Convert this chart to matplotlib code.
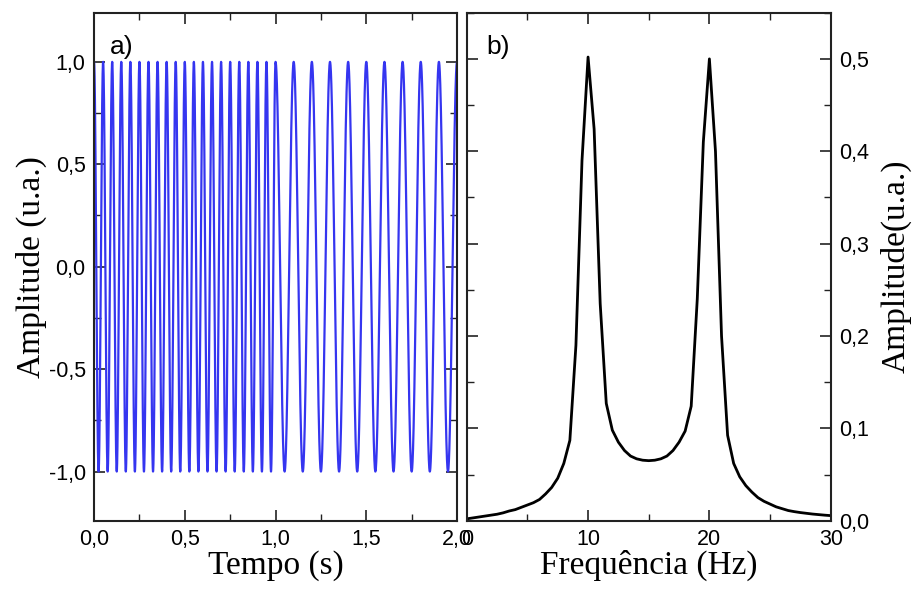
from matplotlib import pyplot as plt
from matplotlib.ticker import MultipleLocator, FuncFormatter
import numpy as np

# time signal: two segments, frequency read from the peak spacing
segStart = [0.0, 1.0]
segEnd = [1.0, 2.0]
segFreq = [20.0, 10.0]   # Hz
segAmp = [1.0, 1.0]

# spectrum read off panel b)
freqHz = [0, 0.5, 1, 1.5, 2, 2.5, 3, 3.5, 4, 4.5, 5, 5.5, 6, 6.5, 7, 7.5, 8, 8.5, 9, 9.5,
          10, 10.5, 11, 11.5, 12, 12.5, 13, 13.5, 14, 14.5, 15, 15.5, 16, 16.5, 17, 17.5,
          18, 18.5, 19, 19.5, 20, 20.5, 21, 21.5, 22, 22.5, 23, 23.5, 24, 24.5, 25, 25.5,
          26, 26.5, 27, 27.5, 28, 28.5, 29, 29.5, 30]
ampSpec = [0.002, 0.003, 0.004, 0.005, 0.006, 0.007, 0.0085, 0.0105, 0.012, 0.0145,
           0.017, 0.0195, 0.023, 0.029, 0.036, 0.046, 0.062, 0.087, 0.19, 0.39,
           0.502, 0.424, 0.235, 0.127, 0.098, 0.085, 0.076, 0.070, 0.067, 0.0655,
           0.065, 0.0655, 0.067, 0.070, 0.076, 0.085, 0.097, 0.124, 0.24, 0.41,
           0.5, 0.40, 0.20, 0.0925, 0.062, 0.0475, 0.038, 0.031, 0.025, 0.021,
           0.018, 0.015, 0.013, 0.011, 0.0098, 0.0088, 0.008, 0.0072, 0.0066, 0.006,
           0.0055]

t = np.linspace(0.0, 2.0, 8001)
y = np.zeros_like(t)
for a, b, f, A in zip(segStart, segEnd, segFreq, segAmp):
    m = (t >= a) & (t <= b)
    y[m] = A * np.cos(2 * np.pi * f * t[m])

plt.rcParams['font.family'] = ['Liberation Sans', 'DejaVu Sans']
tickSize = 15.5
labelFont = dict(family='Liberation Serif', size=24)


def comma(fmt):
    return FuncFormatter(lambda v, p: (fmt % v).replace('.', ','))


fig = plt.figure(figsize=(9.13, 5.94), dpi=100)
ax1 = fig.add_axes([0.103, 0.1234, 0.3976, 0.8552])
ax2 = fig.add_axes([0.5112, 0.1234, 0.3987, 0.8552])

ax1.plot(t, y, color='#3535f0', lw=1.6)
ax1.set_xlim(0, 2)
ax1.set_ylim(-1.24, 1.24)
ax1.xaxis.set_major_locator(MultipleLocator(0.5))
ax1.xaxis.set_minor_locator(MultipleLocator(0.25))
ax1.yaxis.set_major_locator(MultipleLocator(0.5))
ax1.yaxis.set_minor_locator(MultipleLocator(0.25))
ax1.xaxis.set_major_formatter(comma('%.1f'))
ax1.yaxis.set_major_formatter(comma('%.1f'))
ax1.set_xlabel('Tempo (s)', **labelFont, labelpad=0)
ax1.set_ylabel('Amplitude (u.a.)', **labelFont, labelpad=1)
ax1.text(0.077, 0.932, 'a)', transform=ax1.transAxes, fontsize=19, ha='center', va='center')

ax2.plot(freqHz, ampSpec, color='black', lw=2.0)
ax2.set_xlim(0, 30)
ax2.set_ylim(0, 0.55)
ax2.xaxis.set_major_locator(MultipleLocator(10))
ax2.xaxis.set_minor_locator(MultipleLocator(5))
ax2.yaxis.set_major_locator(MultipleLocator(0.1))
ax2.yaxis.set_minor_locator(MultipleLocator(0.05))
ax2.xaxis.set_major_formatter(FuncFormatter(lambda v, p: '%d' % v))
ax2.yaxis.set_major_formatter(comma('%.1f'))
ax2.yaxis.tick_right()
ax2.yaxis.set_label_position('right')
ax2.set_xlabel('Frequência (Hz)', **labelFont, labelpad=0)
ax2.set_ylabel('Amplitude(u.a.)', **labelFont, labelpad=8)
ax2.text(0.086, 0.932, 'b)', transform=ax2.transAxes, fontsize=19, ha='center', va='center')

for ax in (ax1, ax2):
    ax.tick_params(which='both', direction='in', top=True, bottom=True, left=True, right=True,
                   labelsize=tickSize, color='#222222')
    ax.tick_params(which='major', length=8, width=1.2, pad=6)
    ax.tick_params(which='minor', length=5, width=1.0)
    for s in ax.spines.values():
        s.set_linewidth(1.5)
        s.set_color('#222222')
ax2.tick_params(labelleft=False, labelright=True)

fig.savefig('out.png', dpi=100)
